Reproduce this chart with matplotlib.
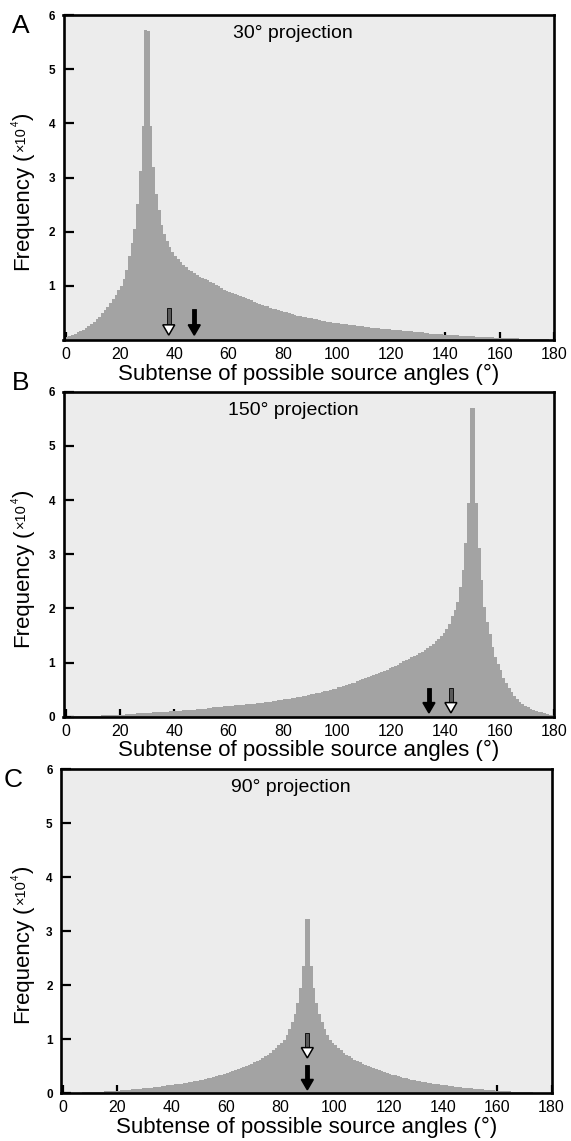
import matplotlib
matplotlib.use("Agg")
import matplotlib.pyplot as plt
from matplotlib.patches import Polygon

plt.rcParams['font.family'] = ['Liberation Sans', 'DejaVu Sans']
plt.rcParams['mathtext.fontset'] = 'custom'
plt.rcParams['mathtext.rm'] = 'Liberation Sans'

# ---------------- data ----------------
bin_edges = list(range(0, 181))  # 1-degree bins, 0..180
x_ticks = [0, 20, 40, 60, 80, 100, 120, 140, 160, 180]

freq_30 = [
    0.05, 0.07, 0.09, 0.12, 0.14, 0.17, 0.19, 0.22, 0.25, 0.29,
    0.33, 0.38, 0.43, 0.49, 0.55, 0.61, 0.68, 0.76, 0.84, 0.92,
    1.00, 1.12, 1.29, 1.55, 1.80, 2.05, 2.52, 3.12, 3.95, 5.72,
    5.70, 3.95, 3.20, 2.70, 2.40, 2.12, 1.95, 1.82, 1.72, 1.62,
    1.55, 1.49, 1.44, 1.39, 1.35, 1.30, 1.27, 1.23, 1.20, 1.17,
    1.14, 1.12, 1.10, 1.07, 1.05, 1.02, 0.99, 0.96, 0.93, 0.91,
    0.89, 0.87, 0.85, 0.83, 0.81, 0.79, 0.77, 0.75, 0.73, 0.71,
    0.69, 0.67, 0.65, 0.63, 0.62, 0.60, 0.58, 0.57, 0.55, 0.54,
    0.52, 0.51, 0.49, 0.48, 0.47, 0.45, 0.44, 0.43, 0.42, 0.41,
    0.40, 0.39, 0.38, 0.37, 0.36, 0.35, 0.34, 0.33, 0.32, 0.32,
    0.31, 0.30, 0.29, 0.29, 0.28, 0.27, 0.27, 0.26, 0.25, 0.25,
    0.24, 0.24, 0.23, 0.23, 0.22, 0.22, 0.21, 0.21, 0.20, 0.20,
    0.19, 0.19, 0.18, 0.18, 0.17, 0.17, 0.16, 0.16, 0.15, 0.15,
    0.14, 0.14, 0.13, 0.13, 0.12, 0.12, 0.12, 0.11, 0.11, 0.10,
    0.10, 0.10, 0.09, 0.09, 0.09, 0.08, 0.08, 0.08, 0.07, 0.07,
    0.07, 0.06, 0.06, 0.06, 0.05, 0.05, 0.05, 0.05, 0.04, 0.04,
    0.04, 0.04, 0.03, 0.03, 0.03, 0.03, 0.03, 0.02, 0.02, 0.02,
    0.02, 0.02, 0.01, 0.01, 0.01, 0.01, 0.01, 0.01, 0.00, 0.00,
]

freq_150 = [
    0.00, 0.00, 0.01, 0.01, 0.01, 0.01, 0.01, 0.01, 0.02, 0.02,
    0.02, 0.02, 0.02, 0.03, 0.03, 0.03, 0.03, 0.03, 0.04, 0.04,
    0.04, 0.04, 0.05, 0.05, 0.05, 0.05, 0.06, 0.06, 0.06, 0.07,
    0.07, 0.07, 0.08, 0.08, 0.08, 0.09, 0.09, 0.09, 0.10, 0.10,
    0.10, 0.11, 0.11, 0.12, 0.12, 0.12, 0.13, 0.13, 0.14, 0.14,
    0.15, 0.15, 0.16, 0.16, 0.17, 0.17, 0.18, 0.18, 0.19, 0.19,
    0.20, 0.20, 0.21, 0.21, 0.22, 0.22, 0.23, 0.23, 0.24, 0.24,
    0.25, 0.25, 0.26, 0.27, 0.27, 0.28, 0.29, 0.29, 0.30, 0.31,
    0.32, 0.32, 0.33, 0.34, 0.35, 0.36, 0.37, 0.38, 0.39, 0.40,
    0.41, 0.42, 0.43, 0.44, 0.45, 0.47, 0.48, 0.49, 0.51, 0.52,
    0.54, 0.55, 0.57, 0.58, 0.60, 0.62, 0.63, 0.65, 0.67, 0.69,
    0.71, 0.73, 0.75, 0.77, 0.79, 0.81, 0.83, 0.85, 0.87, 0.89,
    0.91, 0.93, 0.96, 0.99, 1.02, 1.05, 1.07, 1.10, 1.12, 1.14,
    1.17, 1.20, 1.23, 1.27, 1.30, 1.35, 1.39, 1.44, 1.49, 1.55,
    1.62, 1.72, 1.85, 1.97, 2.12, 2.40, 2.70, 3.20, 3.95, 5.70,
    5.69, 3.95, 3.12, 2.52, 2.03, 1.75, 1.52, 1.29, 1.10, 0.97,
    0.86, 0.72, 0.62, 0.53, 0.45, 0.38, 0.32, 0.27, 0.23, 0.19,
    0.17, 0.14, 0.12, 0.10, 0.09, 0.08, 0.07, 0.05, 0.04, 0.03,
]

freq_90 = [
    0.000, 0.001, 0.002, 0.003, 0.005, 0.006, 0.008, 0.010, 0.012, 0.014,
    0.016, 0.018, 0.020, 0.022, 0.025, 0.028, 0.031, 0.034, 0.037, 0.040,
    0.045, 0.048, 0.050, 0.055, 0.060, 0.065, 0.070, 0.075, 0.080, 0.085,
    0.090, 0.095, 0.100, 0.105, 0.110, 0.120, 0.125, 0.130, 0.140, 0.145,
    0.155, 0.160, 0.170, 0.175, 0.185, 0.190, 0.200, 0.210, 0.220, 0.230,
    0.240, 0.250, 0.260, 0.275, 0.285, 0.300, 0.310, 0.325, 0.340, 0.355,
    0.370, 0.385, 0.400, 0.420, 0.440, 0.460, 0.480, 0.500, 0.520, 0.540,
    0.570, 0.590, 0.620, 0.650, 0.680, 0.710, 0.750, 0.790, 0.830, 0.880,
    0.930, 0.990, 1.080, 1.190, 1.310, 1.460, 1.660, 1.950, 2.350, 3.220,
    3.220, 2.350, 1.950, 1.660, 1.460, 1.310, 1.190, 1.080, 0.990, 0.930,
    0.880, 0.830, 0.790, 0.750, 0.710, 0.680, 0.650, 0.620, 0.590, 0.570,
    0.540, 0.520, 0.500, 0.480, 0.460, 0.440, 0.420, 0.400, 0.385, 0.370,
    0.355, 0.340, 0.325, 0.310, 0.300, 0.285, 0.275, 0.260, 0.250, 0.240,
    0.230, 0.220, 0.210, 0.200, 0.190, 0.185, 0.175, 0.170, 0.160, 0.155,
    0.145, 0.140, 0.130, 0.125, 0.120, 0.110, 0.105, 0.100, 0.095, 0.090,
    0.085, 0.080, 0.075, 0.070, 0.065, 0.060, 0.055, 0.050, 0.048, 0.045,
    0.040, 0.037, 0.034, 0.031, 0.028, 0.025, 0.022, 0.020, 0.018, 0.016,
    0.014, 0.012, 0.010, 0.008, 0.006, 0.005, 0.003, 0.002, 0.001, 0.000,
]

titles = ["30° projection", "150° projection", "90° projection"]
letters = ["A", "B", "C"]
x_label = "Subtense of possible source angles (°)"

# arrow markers (angle in degrees, tip / tail in frequency units)
open_arrow_x = [38.0, 142.0, 90.0]
open_arrow_tip = [0.09, 0.07, 0.65]
open_arrow_tail = [0.59, 0.53, 1.12]
solid_arrow_x = [47.4, 133.9, 90.0]
solid_arrow_tip = [0.09, 0.07, 0.06]
solid_arrow_tail = [0.57, 0.53, 0.52]

# ---------------- layout ----------------
W, H = 571, 1141
fig = plt.figure(figsize=(W / 100, H / 100), dpi=100)
fig.patch.set_facecolor("white")

axes_px = [  # left, right, top, bottom (pixels)
    (63.5, 554.0, 15.0, 340.0),
    (63.5, 554.0, 391.7, 716.7),
    (61.0, 551.5, 769.0, 1093.0),
]
letter_px = [(12, 33), (12, 390), (4, 787)]

BG = "#ececec"
FILL = "#a3a3a3"
XMIN, XMAX = -0.8, 180.0


def draw_arrow(ax, x, tip, tail, solid):
    hw = 2.2      # half head width (deg)
    hl = 0.19     # head length
    sw = 0.75     # half shaft width (deg)
    base = tip + hl
    shaft = Polygon([(x - sw, tail), (x + sw, tail), (x + sw, base), (x - sw, base)],
                    closed=True, zorder=5,
                    facecolor="black" if solid else "#5a5a5a",
                    edgecolor="black", lw=0.6)
    head = Polygon([(x - hw, base), (x + hw, base), (x, tip)], closed=True, zorder=6,
                   facecolor="black" if solid else "white",
                   edgecolor="black", lw=1.1, joinstyle="miter")
    ax.add_patch(shaft)
    ax.add_patch(head)


all_freqs = [freq_30, freq_150, freq_90]
axes = []
for i, (l, r, t, b) in enumerate(axes_px):
    ax = fig.add_axes([l / W, 1 - b / H, (r - l) / W, (b - t) / H])
    axes.append(ax)
    ax.set_facecolor(BG)
    vals = all_freqs[i]
    ax.fill_between(bin_edges, list(vals) + [vals[-1]], 0, step="post",
                    facecolor=FILL, edgecolor="none", lw=0, zorder=2,
                    antialiased=False)
    ax.set_xlim(XMIN, XMAX)
    ax.set_ylim(0, 6)
    ax.set_xticks(x_ticks)
    ax.set_xticklabels([str(v) for v in x_ticks], fontsize=11.5)
    yt = list(range(1, 7)) if i == 0 else list(range(0, 7))
    ax.set_yticks(yt)
    ax.set_yticklabels([str(v) for v in yt], fontsize=8.5, fontweight="bold")
    ax.tick_params(axis="x", direction="in", length=6, width=1.6, pad=5, top=False)
    ax.tick_params(axis="y", direction="in", length=7, width=1.6, pad=6, right=False)
    for s in ax.spines.values():
        s.set_linewidth(1.9)
        s.set_color("black")
        s.set_zorder(10)
    ax.text(0.468, 1 - 19 / (b - t), titles[i], transform=ax.transAxes,
            ha="center", va="center", fontsize=14)
    ax.text(0.5, -34 / (b - t), x_label, transform=ax.transAxes,
            ha="center", va="center", fontsize=16)
    draw_arrow(ax, open_arrow_x[i], open_arrow_tip[i], open_arrow_tail[i], False)
    draw_arrow(ax, solid_arrow_x[i], solid_arrow_tip[i], solid_arrow_tail[i], True)
    lx, ly = letter_px[i]
    fig.text(lx / W, 1 - ly / H, letters[i], ha="left", va="baseline", fontsize=19)

# y labels built in pieces: "Frequency (×10^4)"
fig.canvas.draw()
renderer = fig.canvas.get_renderer()
for i, (l, r, t, b) in enumerate(axes_px):
    xc = 23.0
    y = H - (b - 70)  # display y (from bottom)
    pieces = [("Frequency", 16, 0, 0), ("(", 16, 0, 5), ("×10", 10.5, -2, 1),
              ("4", 7, -7, 0), (")", 16, 0, 1)]
    for txt, fs, dx, gap in pieces:
        y += gap
        tobj = fig.text((xc + dx) / W, y / H, txt, rotation=90, rotation_mode="anchor",
                        ha="left", va="center", fontsize=fs)
        bb = tobj.get_window_extent(renderer)
        y = bb.y1

fig.savefig("out.png", dpi=100, facecolor="white")
